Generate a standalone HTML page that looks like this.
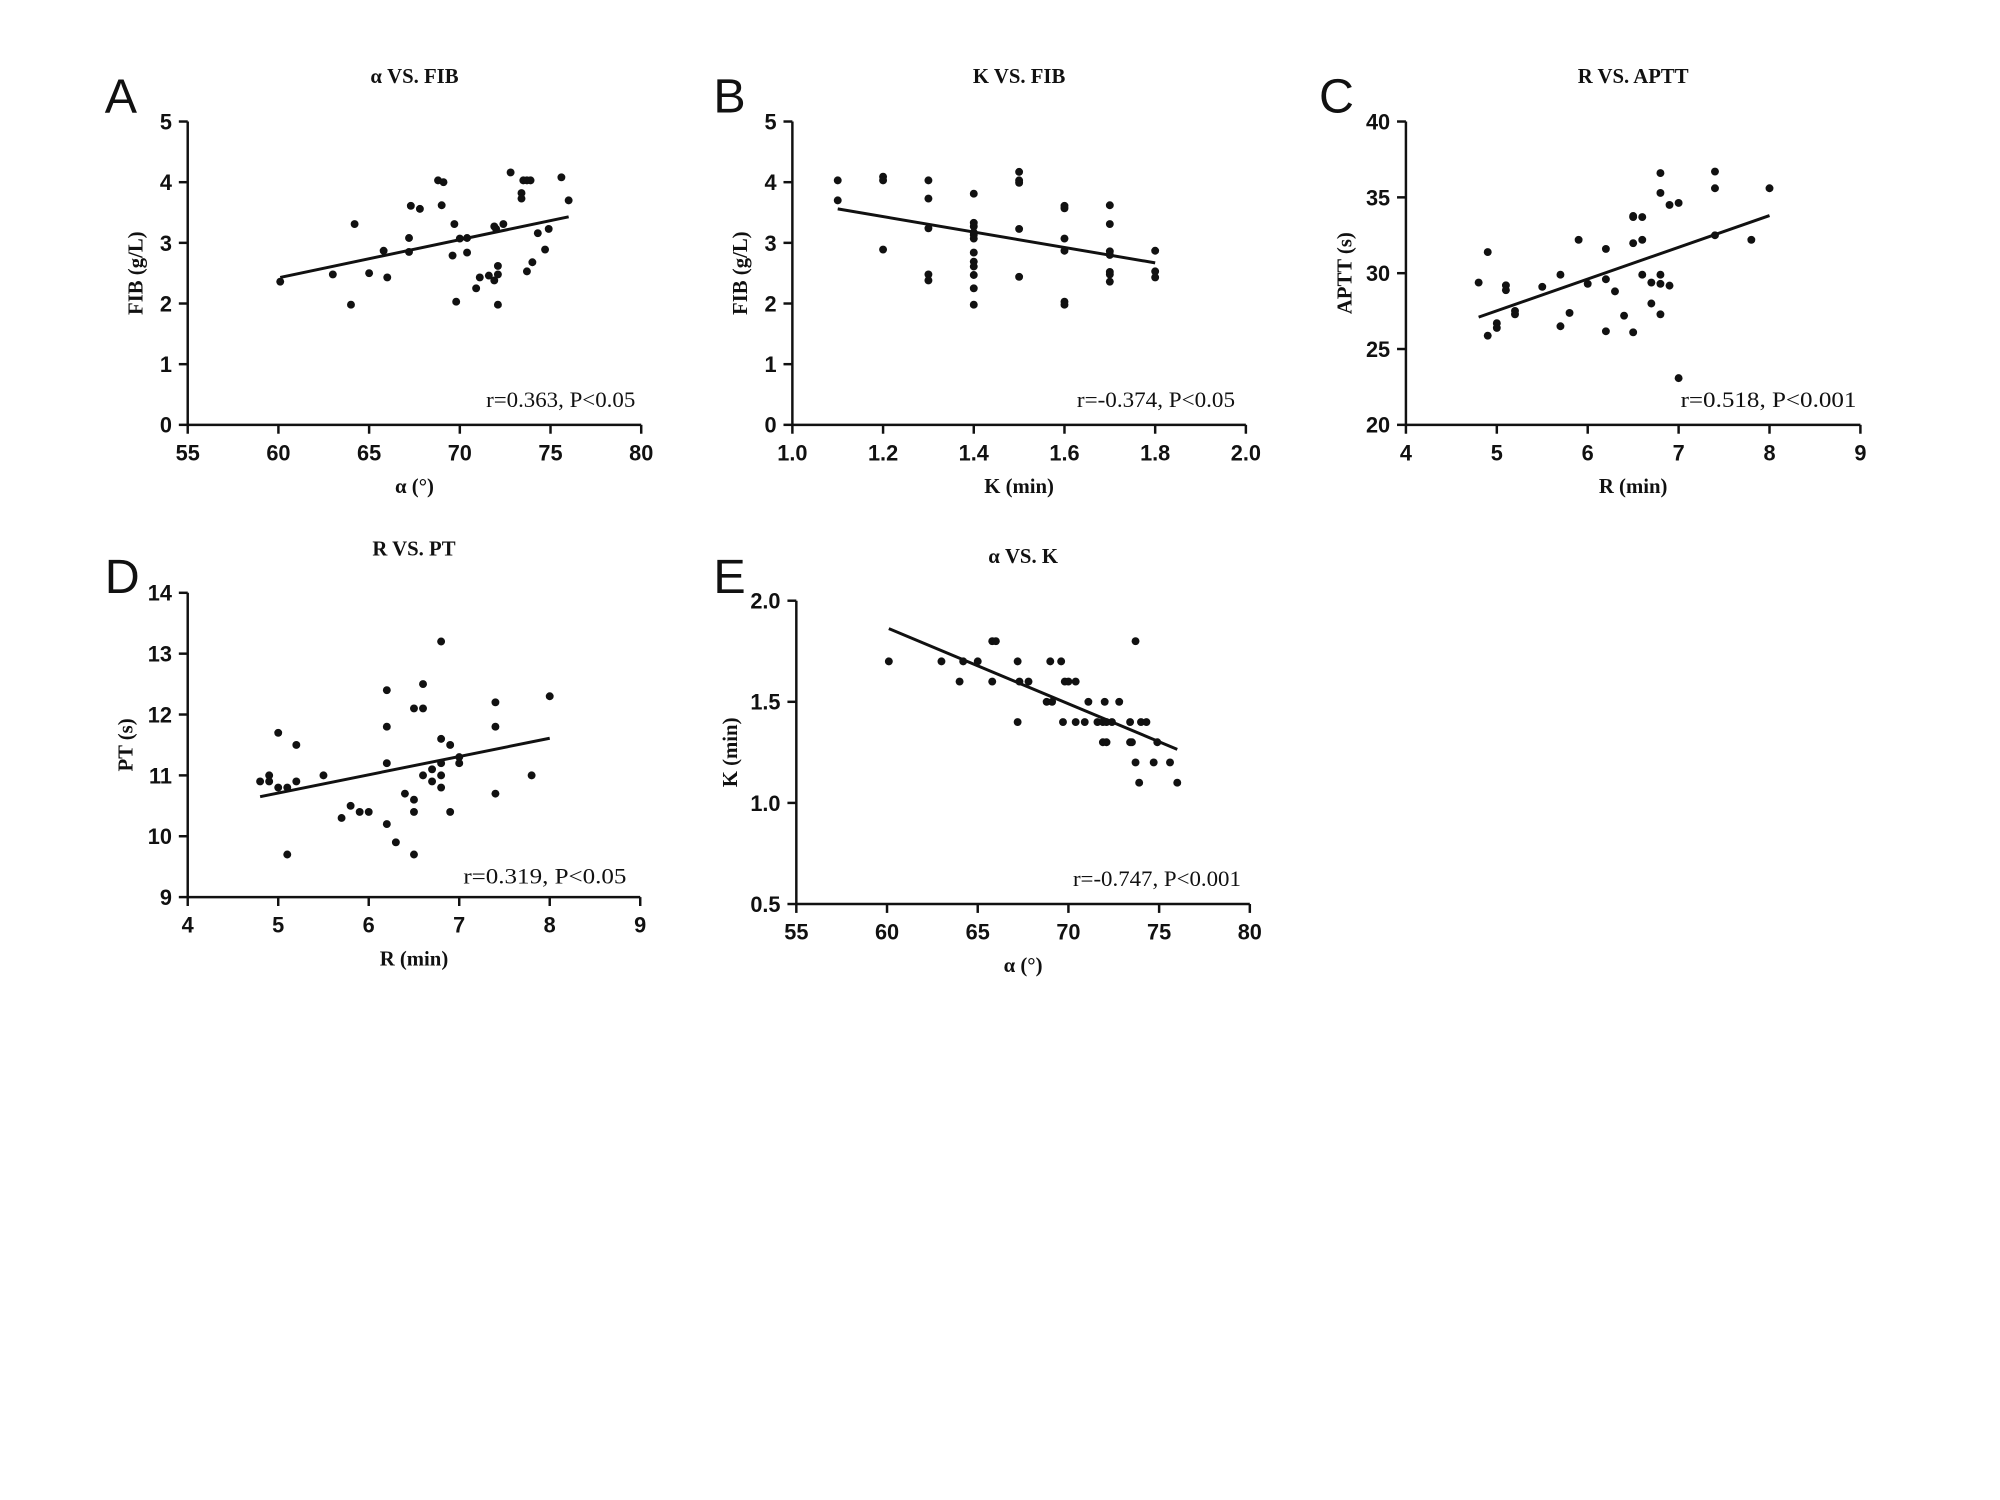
<!DOCTYPE html>
<html><head><meta charset="utf-8"><style>
html,body{margin:0;padding:0;background:#fff;}
svg{display:block;}
.tick{font-family:"Liberation Sans",Arial,sans-serif;font-weight:bold;font-size:22px;fill:#111;}
.ttl{font-family:"Liberation Serif",serif;font-weight:bold;font-size:21px;fill:#111;}
.ann{font-family:"Liberation Serif",serif;font-size:22px;fill:#111;}
.let{font-family:"Liberation Sans",Arial,sans-serif;font-size:49px;fill:#111;}
</style></head><body>
<svg id="fig" width="2000" height="1500" viewBox="0 0 2000 1500" xmlns="http://www.w3.org/2000/svg">
<rect width="2000" height="1500" fill="#fff"/>
<g id="root" transform="scale(0.988)"></g>
</svg>
<script>
// Panel A: alpha vs FIB
const aX=[60.1,63.0,64.2,64.0,65.0,65.8,66.0,67.2,67.2,67.3,67.8,68.8,69.1,69.0,69.7,69.6,69.8,70.0,70.4,70.4,70.9,71.1,71.6,71.9,71.9,72.0,72.1,72.1,72.1,72.4,72.8,73.4,73.4,73.5,73.7,73.9,73.7,74.0,74.3,74.7,74.9,75.6,76.0];
const aY=[2.36,2.48,3.31,1.98,2.50,2.87,2.43,3.08,2.85,3.61,3.56,4.03,4.00,3.62,3.31,2.79,2.03,3.07,3.08,2.84,2.25,2.43,2.46,2.38,3.27,3.23,2.48,2.62,1.98,3.31,4.16,3.82,3.73,4.03,4.03,4.03,2.53,2.68,3.16,2.89,3.23,4.08,3.70];
const aFit=[60.1,2.43,76.0,3.43];
const aXTicks=[55,60,65,70,75,80];
const aYTicks=[0,1,2,3,4,5];
// Panel B: K vs FIB
const bX=[1.1,1.1,1.2,1.2,1.2,1.3,1.3,1.3,1.3,1.3,1.4,1.4,1.4,1.4,1.4,1.4,1.4,1.4,1.4,1.4,1.4,1.4,1.5,1.5,1.5,1.5,1.5,1.6,1.6,1.6,1.6,1.6,1.6,1.7,1.7,1.7,1.7,1.7,1.7,1.7,1.8,1.8,1.8];
const bY=[4.03,3.70,4.09,4.03,2.89,4.03,3.73,3.24,2.48,2.38,3.81,3.33,3.27,3.17,3.13,3.07,2.84,2.69,2.61,2.47,2.25,1.98,4.17,4.03,3.99,3.23,2.44,3.61,3.57,3.07,2.87,2.03,1.98,3.62,3.31,2.86,2.80,2.52,2.48,2.36,2.87,2.53,2.43];
const bFit=[1.1,3.56,1.8,2.67];
const bXTicks=["1.0","1.2","1.4","1.6","1.8","2.0"];
const bYTicks=[0,1,2,3,4,5];
// Panel C: R vs APTT
const cX=[4.8,4.9,4.9,5.0,5.0,5.1,5.1,5.2,5.2,5.5,5.7,5.7,5.8,5.9,6.0,6.2,6.2,6.2,6.3,6.4,6.5,6.5,6.5,6.5,6.6,6.6,6.6,6.7,6.7,6.8,6.8,6.8,6.8,6.8,6.9,6.9,7.0,7.0,7.4,7.4,7.4,7.8,8.0];
const cY=[29.38,31.39,25.88,26.70,26.39,29.2,28.88,27.51,27.29,29.1,29.9,26.5,27.38,32.2,29.3,31.6,29.6,26.17,28.8,27.2,33.77,33.7,31.98,26.1,33.7,32.2,29.9,29.38,28.0,36.6,35.29,29.9,29.3,27.29,34.5,29.18,34.63,23.08,36.7,35.6,32.5,32.2,35.6];
const cFit=[4.8,27.1,8.0,33.8];
const cXTicks=[4,5,6,7,8,9];
const cYTicks=[20,25,30,35,40];
// Panel D: R vs PT
const dX=[4.8,4.9,4.9,5.0,5.0,5.1,5.1,5.2,5.2,5.5,5.7,5.8,5.9,6.0,6.2,6.2,6.2,6.2,6.3,6.4,6.5,6.5,6.5,6.5,6.6,6.6,6.6,6.7,6.7,6.8,6.8,6.8,6.8,6.8,6.9,6.9,7.0,7.0,7.4,7.4,7.4,7.8,8.0];
const dY=[10.9,11.0,10.9,11.7,10.8,10.8,9.7,11.5,10.9,11.0,10.3,10.5,10.4,10.4,12.4,11.8,11.2,10.2,9.9,10.7,12.1,10.6,10.4,9.7,12.5,12.1,11.0,11.1,10.9,13.2,11.6,11.2,11.0,10.8,11.5,10.4,11.3,11.2,12.2,11.8,10.7,11.0,12.3];
const dFit=[4.8,10.65,8.0,11.61];
const dXTicks=[4,5,6,7,8,9];
const dYTicks=[9,10,11,12,13,14];
// Panel E: alpha vs K
const eX=[60.1,63.0,64.0,64.2,65.0,65.8,65.8,66.0,67.2,67.2,67.3,67.8,68.8,69.1,69.0,69.6,69.7,69.8,70.0,70.4,70.4,70.9,71.1,71.6,71.9,71.9,72.0,72.1,72.1,72.4,72.8,73.4,73.4,73.5,73.7,73.7,73.9,74.0,74.3,74.7,74.9,75.6,76.0];
const eY=[1.7,1.7,1.6,1.7,1.7,1.6,1.8,1.8,1.7,1.4,1.6,1.6,1.5,1.5,1.7,1.7,1.4,1.6,1.6,1.6,1.4,1.4,1.5,1.4,1.3,1.4,1.5,1.4,1.3,1.4,1.5,1.4,1.3,1.3,1.8,1.2,1.1,1.4,1.4,1.2,1.3,1.2,1.1];
const eFit=[60.1,1.862,76.0,1.265];
const eXTicks=[55,60,65,70,75,80];
const eYTicks=["0.5","1.0","1.5","2.0"];

const NS="http://www.w3.org/2000/svg";
const root=document.getElementById('root');
function mk(tag,attrs,parent,text){
  const el=document.createElementNS(NS,tag);
  for(const k in attrs) el.setAttribute(k,attrs[k]);
  if(text!==undefined) el.textContent=text;
  parent.appendChild(el);
  return el;
}
function panel(p){
  const g=mk('g',{},root);
  
  
  const xmin=+p.xt[0], xmax=+p.xt[p.xt.length-1], ymin=+p.yt[0], ymax=+p.yt[p.yt.length-1];
  const sx=v=>p.x0+(v-xmin)/(xmax-xmin)*(p.x1-p.x0);
  const sy=v=>p.y0-(v-ymin)/(ymax-ymin)*(p.y0-p.y1);
  const letter=mk('text',{x:p.lx,y:p.ly,class:'let'},g,p.id);
  
  
  const t=mk('text',{x:(p.x0+p.x1)/2,y:p.ty,class:'ttl','text-anchor':'middle'},g,p.title);
  
  
  const ax=mk('path',{d:`M${p.x0} ${p.y1}V${p.y0}H${p.x1}`,fill:'none',stroke:'#111','stroke-width':2.5},g);
  
  
  p.xt.forEach(v=>{
    const X=sx(+v);
    mk('line',{x1:X,x2:X,y1:p.y0,y2:p.y0+9,stroke:'#111','stroke-width':2.5},g);
    const tl=mk('text',{x:X,y:p.y0+36,class:'tick','text-anchor':'middle'},g,String(v));
    
    
  });
  p.yt.forEach(v=>{
    const Y=sy(+v);
    mk('line',{x1:p.x0-9,x2:p.x0,y1:Y,y2:Y,stroke:'#111','stroke-width':2.5},g);
    const tl=mk('text',{x:p.x0-16,y:Y+8,class:'tick','text-anchor':'end'},g,String(v));
    
    
  });
  const xl=mk('text',{x:(p.x0+p.x1)/2,y:p.y0+69,class:'ttl','text-anchor':'middle'},g,p.xlab);
  
  
  const yc=(p.y0+p.y1)/2, yx=p.x0-p.yo;
  const yl=mk('text',{x:yx,y:yc,class:'ttl','text-anchor':'middle',transform:`rotate(-90 ${yx} ${yc})`,dy:7},g,p.ylab);
  
  
  const f=p.fit;
  const fl=mk('line',{x1:sx(f[0]),y1:sy(f[1]),x2:sx(f[2]),y2:sy(f[3]),stroke:'#111','stroke-width':3},g);
  
  
  p.xs.forEach((v,i)=>{
    const c=mk('circle',{cx:sx(v),cy:sy(p.ys[i]),r:4,fill:'#111'},g);
    
    
  });
  const an=mk('text',{x:p.ax,y:p.ay,class:'ann','text-anchor':'end',textLength:p.aw,lengthAdjust:'spacingAndGlyphs'},g,p.ann);
  
  
}
panel({id:'A',title:'α VS. FIB',xlab:'α (°)',ylab:'FIB (g/L)',xs:aX,ys:aY,fit:aFit,xt:aXTicks,yt:aYTicks,x0:190,x1:649,y0:430,y1:123,lx:106,ly:114,ty:84,yo:53,ann:'r=0.363, P<0.05',ax:643,ay:412,aw:151});
panel({id:'B',title:'K VS. FIB',xlab:'K (min)',ylab:'FIB (g/L)',xs:bX,ys:bY,fit:bFit,xt:bXTicks,yt:bYTicks,x0:802,x1:1261,y0:430,y1:123,lx:722,ly:114,ty:84,yo:53,ann:'r=-0.374, P<0.05',ax:1250,ay:412,aw:160});
panel({id:'C',title:'R VS. APTT',xlab:'R (min)',ylab:'APTT (s)',xs:cX,ys:cY,fit:cFit,xt:cXTicks,yt:cYTicks,x0:1423,x1:1883,y0:430,y1:123,lx:1335,ly:114,ty:84,yo:62,ann:'r=0.518,   P<0.001',ax:1879,ay:412,aw:178});
panel({id:'D',title:'R VS. PT',xlab:'R (min)',ylab:'PT (s)',xs:dX,ys:dY,fit:dFit,xt:dXTicks,yt:dYTicks,x0:190,x1:648,y0:908,y1:600,lx:106,ly:600,ty:562,yo:63,ann:'r=0.319,   P<0.05',ax:634,ay:894,aw:165});
panel({id:'E',title:'α VS. K',xlab:'α (°)',ylab:'K (min)',xs:eX,ys:eY,fit:eFit,xt:eXTicks,yt:eYTicks,x0:806,x1:1265,y0:915,y1:608,lx:722,ly:600,ty:570,yo:67,ann:'r=-0.747, P<0.001',ax:1256,ay:897,aw:170});
</script>
</body></html>
